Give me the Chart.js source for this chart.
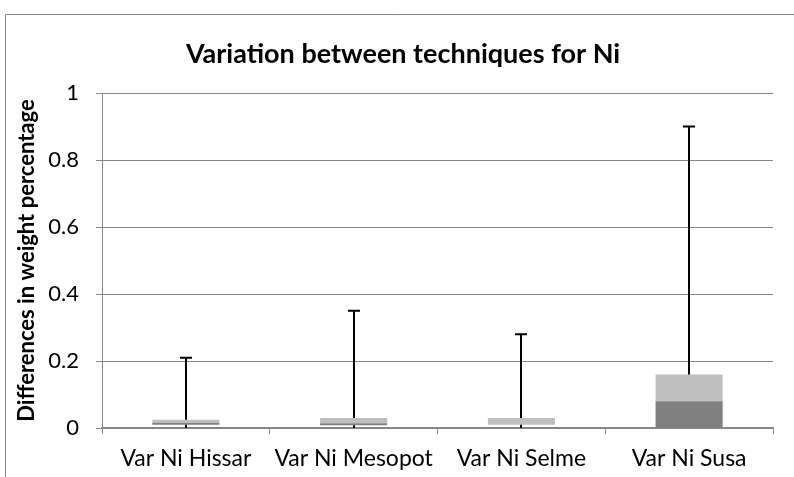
<!DOCTYPE html>
<html>
<head>
<meta charset="utf-8">
<script src="https://cdn.jsdelivr.net/npm/chart.js@4/dist/chart.umd.min.js"></script>
<style>
  html, body { margin: 0; padding: 0; background: #ffffff; }
  #wrap { width: 794px; height: 477px; position: relative; }
</style>
</head>
<body>
<div id="wrap"><canvas id="c" width="794" height="477"></canvas></div>
<script>
const categories = ['Var Ni Hissar', 'Var Ni Mesopot', 'Var Ni Selme', 'Var Ni Susa'];
const minVals    = [0, 0, 0, 0];
const q1Vals     = [0.010, 0.008, 0.010, 0.000];
const medianVals = [0.016, 0.014, 0.010, 0.080];
const q3Vals     = [0.025, 0.030, 0.030, 0.160];
const maxVals    = [0.21, 0.35, 0.28, 0.90];
const yTicks     = [0, 0.2, 0.4, 0.6, 0.8, 1];

const titleText = 'Variation between techniques for Ni';
const yTitle = 'Differences in weight percentage';
const FONT = 'Lato, "Liberation Sans", sans-serif';
const GRID = '#868686';

const baseData = q1Vals.slice();
const darkData = medianVals.map((m, i) => m - q1Vals[i]);
const lightData = q3Vals.map((q, i) => q - medianVals[i]);

const framePlugin = {
  id: 'frame',
  beforeDraw(chart) {
    const ctx = chart.ctx;
    ctx.save();
    ctx.fillStyle = '#ffffff';
    ctx.fillRect(0, 0, chart.width, chart.height);
    ctx.strokeStyle = GRID;
    ctx.lineWidth = 1;
    ctx.beginPath();
    ctx.moveTo(5.5, chart.height);
    ctx.lineTo(5.5, 14.5);
    ctx.lineTo(chart.width, 14.5);
    ctx.stroke();
    ctx.fillStyle = '#000000';
    ctx.font = 'bold 27px ' + FONT;
    ctx.textAlign = 'center';
    ctx.textBaseline = 'alphabetic';
    ctx.fillText(titleText, 403, 63);
    ctx.restore();
  }
};

const whiskerPlugin = {
  id: 'whiskers',
  afterDatasetsDraw(chart) {
    const ctx = chart.ctx;
    const xs = chart.scales.x, ys = chart.scales.y;
    ctx.save();
    ctx.strokeStyle = '#000000';
    ctx.lineWidth = 2;
    categories.forEach((c, i) => {
      const x = Math.round(xs.getPixelForValue(i));
      const yTop = ys.getPixelForValue(maxVals[i]);
      const yQ3 = ys.getPixelForValue(q3Vals[i]);
      const yQ1 = ys.getPixelForValue(q1Vals[i]);
      const yMin = ys.getPixelForValue(minVals[i]);
      ctx.beginPath();
      ctx.moveTo(x, yQ3);
      ctx.lineTo(x, yTop);
      ctx.moveTo(x - 6, yTop);
      ctx.lineTo(x + 6, yTop);
      if (q1Vals[i] > minVals[i]) {
        ctx.moveTo(x, yQ1);
        ctx.lineTo(x, yMin);
      }
      ctx.stroke();
    });
    ctx.restore();
  }
};

new Chart(document.getElementById('c'), {
  type: 'bar',
  data: {
    labels: categories,
    datasets: [
      { label: 'base', data: baseData, backgroundColor: 'rgba(0,0,0,0)', borderWidth: 0 },
      { label: 'q1-median', data: darkData, backgroundColor: '#808080', borderWidth: 0 },
      { label: 'median-q3', data: lightData, backgroundColor: '#bfbfbf', borderWidth: 0 }
    ]
  },
  options: {
    responsive: false,
    animation: false,
    devicePixelRatio: 1,
    layout: { padding: { left: 5, right: 21, top: 93, bottom: 0 } },
    datasets: { bar: { categoryPercentage: 1.0, barPercentage: 0.4 } },
    plugins: {
      legend: { display: false },
      tooltip: { enabled: false },
      title: { display: false }
    },
    scales: {
      x: {
        stacked: true,
        offset: true,
        grid: { display: true, offset: true, drawOnChartArea: false, drawTicks: true, tickLength: 6, color: GRID, lineWidth: 1 },
        border: { display: true, color: GRID, width: 2 },
        ticks: { color: '#000000', font: { family: FONT, size: 23 }, padding: 11, maxRotation: 0, autoSkip: false },
        afterFit(scale) { scale.height = 49; }
      },
      y: {
        stacked: true,
        min: 0,
        max: 1,
        afterBuildTicks(scale) { scale.ticks = yTicks.map(v => ({ value: v })); },
        grid: { color: GRID, lineWidth: 1, drawTicks: true, tickLength: 6 },
        border: { display: true, color: GRID, width: 1 },
        ticks: {
          color: '#000000',
          font: { family: FONT, size: 22 },
          padding: 17,
          callback: v => String(v)
        },
        title: {
          display: true,
          text: yTitle,
          color: '#000000',
          font: { family: FONT, size: 22, weight: 'bold' },
          padding: { top: 9, bottom: 0 }
        },
        afterFit(scale) { scale.width = 97; }
      }
    }
  },
  plugins: [framePlugin, whiskerPlugin]
});
</script>
</body>
</html>
